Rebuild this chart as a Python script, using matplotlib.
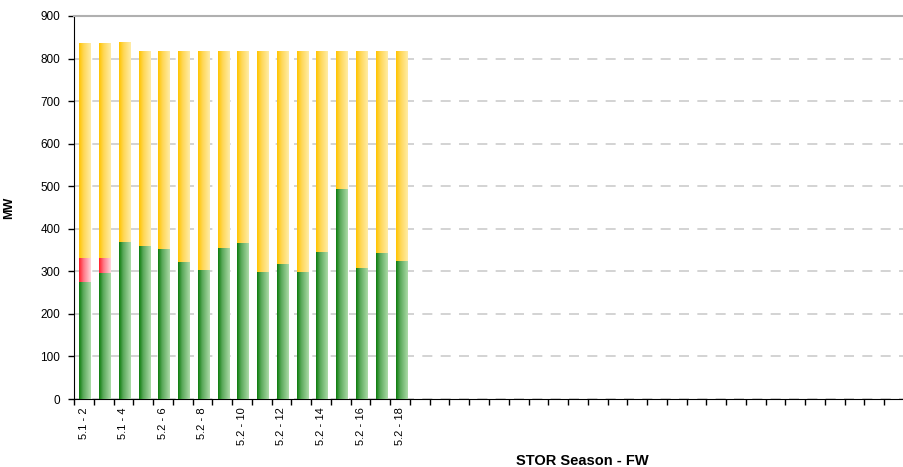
import numpy as np
import matplotlib
matplotlib.use("Agg")
import matplotlib.pyplot as plt
from matplotlib.colors import LinearSegmentedColormap

plt.rcParams['font.family'] = ['Liberation Sans', 'DejaVu Sans']

# categories (season - week); the rest of the 42 slots are still empty
weeks = ["5.1 - 2", "5.1 - 3", "5.1 - 4", "5.2 - 5", "5.2 - 6", "5.2 - 7",
         "5.2 - 8", "5.2 - 9", "5.2 - 10", "5.2 - 11", "5.2 - 12", "5.2 - 13",
         "5.2 - 14", "5.2 - 15", "5.2 - 16", "5.2 - 17", "5.2 - 18"]
n_slots = 42

# MW values
green_mw = [275, 296, 369, 360, 352, 322, 303, 355, 366, 298, 317, 298,
            345, 493, 308, 343, 324]
red_mw = [56, 35, 0, 0, 0, 0, 0, 0, 0, 0, 0, 0, 0, 0, 0, 0, 0]
total_mw = [834, 834, 837, 816, 816, 816, 816, 816, 816, 816, 816, 816,
            816, 816, 816, 816, 816]
yellow_mw = [t - g - r for t, g, r in zip(total_mw, green_mw, red_mw)]

green_cmap = LinearSegmentedColormap.from_list(
    "g", [(0, "#0c7c0c"), (0.35, "#5aa95a"), (1, "#acdba8")])
red_cmap = LinearSegmentedColormap.from_list(
    "r", [(0, "#ff1e2a"), (0.4, "#ff7a88"), (1, "#ffd6dc")])
yellow_cmap = LinearSegmentedColormap.from_list(
    "y", [(0, "#ffc400"), (0.4, "#ffd858"), (1, "#ffeca6")])


def gradient_fill(ax, bars, cmap):
    # horizontal gradient painted into each bar rectangle
    grad = np.linspace(0, 1, 64).reshape(1, -1)
    for b in bars:
        h = b.get_height()
        if h <= 0:
            continue
        x0, y0, w = b.get_x(), b.get_y(), b.get_width()
        ax.imshow(grad, cmap=cmap, aspect='auto', interpolation='bilinear',
                  extent=(x0, x0 + w, y0, y0 + h), zorder=3)
        b.set_facecolor('none')
        b.set_edgecolor('none')


fig = plt.figure(figsize=(9.04, 4.67), dpi=100)
ax = fig.add_axes([74 / 904, 1 - 399 / 467, 830 / 904, 383 / 467])

x = np.arange(len(weeks))
width = 0.56
g = ax.bar(x + 0.05, green_mw, width)
r = ax.bar(x + 0.05, red_mw, width, bottom=green_mw)
y = ax.bar(x + 0.05, yellow_mw, width, bottom=np.add(green_mw, red_mw))
gradient_fill(ax, g, green_cmap)
gradient_fill(ax, r, red_cmap)
gradient_fill(ax, y, yellow_cmap)

ax.set_xlim(-0.5, n_slots - 0.5)
ax.set_ylim(0, 900)
ax.set_yticks(range(0, 901, 100))
ax.tick_params(axis='y', labelsize=8.5, length=4, width=1, pad=6)

# labels on every other week, tick marks between categories
ax.set_xticks(x[::2])
ax.set_xticklabels(weeks[::2], rotation=90, fontsize=8)
ax.tick_params(axis='x', which='major', length=0, pad=6)
ax.set_xticks(np.arange(-0.5, n_slots, 1), minor=True)
ax.tick_params(axis='x', which='minor', length=4, width=1)

ax.grid(axis='y', color='#cccccc', linestyle=(0, (6, 5)), linewidth=1.2)
ax.set_axisbelow(True)
ax.spines['right'].set_visible(False)
ax.spines['top'].set_color('#b0b0b0')
ax.spines['top'].set_linewidth(1.5)

ax.set_ylabel("MW", fontsize=9, fontweight='bold')
ax.yaxis.set_label_coords(-0.071, 0.5)
ax.set_xlabel("STOR Season - FW", fontsize=10.5, fontweight='bold')
ax.xaxis.set_label_coords(0.612, -0.143)

fig.savefig("out.png", dpi=100)
